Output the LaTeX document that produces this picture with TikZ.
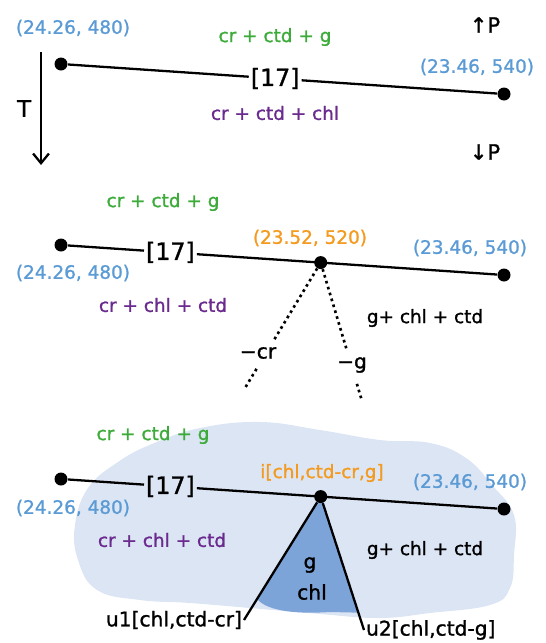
\documentclass[tikz,border=0pt]{standalone}
\usepackage{fontspec}
\setmainfont{DejaVu Sans}[FakeBold=1.2]
\usetikzlibrary{positioning, arrows.meta, calc}
\definecolor{cBlue}{HTML}{5B9BD5}
\definecolor{cGreen}{HTML}{3CAB3A}
\definecolor{cPurple}{HTML}{6A2A8E}
\definecolor{cOrange}{HTML}{F39A1F}
\definecolor{cCloud}{HTML}{DCE5F4}
\definecolor{cTri}{HTML}{7DA4D9}

\begin{document}
\begin{tikzpicture}[
    x=0.02cm, y=-0.02cm,
    >={Straight Barb[length=5.5pt, width=9pt]},
    lbl/.style={font=\fontsize{10.5}{12}\selectfont, inner sep=1pt},
    ptl/.style={lbl, text=cBlue},
    gl/.style={lbl, text=cGreen},
    pl/.style={lbl, text=cPurple},
    ol/.style={lbl, text=cOrange},
    ul/.style={lbl, font=\fontsize{11.5}{13}\selectfont},
    tag/.style={font=\fontsize{13.5}{15}\selectfont, inner sep=1pt},
    dot/.style={circle, fill=black, minimum size=0.26cm, inner sep=0pt},
    seg/.style={line width=1.3pt},
    dseg/.style={dotted, line width=1.5pt},
]
\useasboundingbox (0,0) rectangle (546,643);

% --- Helper: one reaction line, #1 = name prefix, #2 = y of left end, #3 = pos of [17] ---
\newcommand{\rxnline}[3]{%
    \node[dot] (#1L) at (61,#2) {};
    \node[dot] (#1R) at (504,#2+30) {};
    \path (#1L) -- (#1R) node[tag, pos=#3] (#1K) {[17]};
    \draw[seg] (#1L) -- (#1K);
    \draw[seg] (#1K) -- (#1R);
}

% =============================================
% TOP: the univariant line
% =============================================

\rxnline{a}{64}{0.483}

\node[ptl] (aLlbl) at (73,28) {(24.26, 480)};
\node[ptl] (aRlbl) at (477,67) {(23.46, 540)};
\node[gl] (aUp) at (275,37) {cr + ctd + g};
\node[pl] (aDn) at (275,113) {cr + ctd + chl};
\node[lbl, font=\fontsize{12}{14}\selectfont] (pUp) at (485,25) {↑P};
\node[lbl, font=\fontsize{12}{14}\selectfont] (pDn) at (485,152) {↓P};

% T arrow
\coordinate (Ttop) at (41,52);
\coordinate (Tbot) at (41,165);
\draw[seg, ->] (Ttop) -- (Tbot) node[lbl, font=\fontsize{13}{15}\selectfont, midway, left=4pt] (Tlbl) {T};

% =============================================
% MIDDLE: invariant point with two lost phases
% =============================================

\rxnline{b}{245}{0.239}
\path (bL) -- (bR) node[dot, pos=0.589] (bM) {};

\node[gl] (bUp) at (163,202) {cr + ctd + g};
\node[ptl] (bLlbl) at (73,273) {(24.26, 480)};
\node[ptl] (bRlbl) at (470,248) {(23.46, 540)};
\node[ol] (bMlbl) at (310,238) {(23.52, 520)};
\node[pl] (bDn) at (163,305) {cr + chl + ctd};
\node[lbl] (bRt) at (425,318) {g+ chl + ctd};

% dotted branches, broken by their labels
\coordinate (crEnd) at (245,388);
\coordinate (gEnd) at (362,401);
\path (bM) -- (crEnd) coordinate[pos=0.6] (crA) coordinate[pos=0.84] (crB);
\path (bM) -- (gEnd) coordinate[pos=0.62] (gA) coordinate[pos=0.87] (gB);
\node[lbl, font=\fontsize{11.5}{13}\selectfont] (mcr) at (258,353) {−cr};
\node[lbl, font=\fontsize{11.5}{13}\selectfont] (mg) at (352,365) {−g};
\draw[dseg] (bM) -- (crA);
\draw[dseg] (crB) -- (crEnd);
\draw[dseg] (bM) -- (gA);
\draw[dseg] (gB) -- (gEnd);

% =============================================
% BOTTOM: field of the reaction with the new wedge
% =============================================

\fill[cCloud] plot[smooth cycle, tension=0.7] coordinates {
    (75,525) (88,488) (118,462) (152,444) (200,428) (260,422) (320,430)
    (380,440) (430,443) (466,458) (492,485) (514,515) (514,555) (510,588)
    (490,605) (430,613) (380,618) (320,614) (250,608) (190,603) (140,600)
    (97,590) (78,560)};

\rxnline{c}{479}{0.239}
\path (cL) -- (cR) coordinate[pos=0.589] (cm);

\node[gl] (cUp) at (153,435) {cr + ctd + g};
\node[ptl] (cLlbl) at (73,508) {(24.26, 480)};
\node[ptl] (cRlbl) at (470,482) {(23.46, 540)};
\node[ol] (cMlbl) at (322,473) {i[chl,ctd-cr,g]};
\node[pl] (cDn) at (162,540) {cr + chl + ctd};
\node[lbl] (cRt) at (425,550) {g+ chl + ctd};

\node[ul, anchor=east] (u1) at (244,620) {u1[chl,ctd-cr]};
\node[ul, anchor=west] (u2) at (364,630) {u2[chl,ctd-g]};

% wedge between the two new lines
\fill[cTri] (cm) -- ($(cm)!0.83!(u1.east)$) .. controls (268,612) and (300,614) .. (330,612)
    -- ($(cm)!0.87!(u2.west)$) -- cycle;
\node[lbl, font=\fontsize{11.5}{13}\selectfont] (wg) at (310,565) {g};
\node[lbl, font=\fontsize{11.5}{13}\selectfont] (wchl) at (312,592) {chl};

\node[dot] (cM) at (cm) {};
\draw[seg] (cM) -- (u1.east);
\draw[seg] (cM) -- (u2.west);

\end{tikzpicture}
\end{document}
